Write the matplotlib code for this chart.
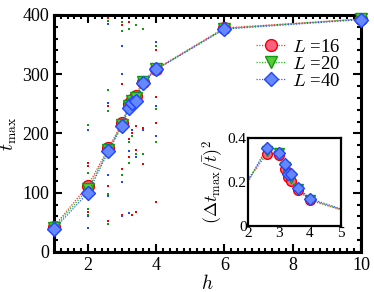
import matplotlib
matplotlib.use("Agg")
import matplotlib.pyplot as plt
from matplotlib.ticker import MultipleLocator

plt.rcParams['font.family'] = 'serif'
plt.rcParams['font.serif'] = ['Liberation Serif', 'DejaVu Serif']
plt.rcParams['mathtext.fontset'] = 'cm'

# main curves: mean t_max vs h
h_main = [1, 2, 2.6, 3, 3.2, 3.3, 3.4, 3.6, 4, 6, 10]
t16 = [43, 112, 175, 218, 249, 257, 264, 287, 309, 378, 393]
t20 = [41, 106, 172, 215, 246, 254, 259, 286, 308, 377, 393]
t40 = [38, 100, 170, 213, 243, 251, 255, 285, 308, 376, 392]

# individual samples (small dots)
dots_h16 = [1, 2, 2, 2, 2.6, 2.6, 2.6, 2.6, 2.6, 3, 3, 3, 3, 3.2, 3.2, 3.2, 3.3, 3.3,
            3.4, 3.4, 3.4, 3.6, 3.6, 4, 4, 4, 4, 6, 10]
dots_t16 = [55, 150, 145, 68, 395, 247, 112, 52, 178, 383, 283, 140, 62, 388, 190, 160, 200, 62,
            212, 172, 68, 210, 148, 340, 262, 218, 85, 398, 343]
dots_h20 = [1, 2, 2, 2, 2, 2.6, 2.6, 2.6, 2.6, 2.6, 3, 3, 3, 3.2, 3.2, 3.2, 3.3, 3.4, 3.4,
            3.6, 3.6, 4, 4, 4, 10]
dots_t20 = [50, 215, 133, 72, 62, 390, 273, 238, 98, 47, 388, 372, 130, 377, 185, 150, 196, 383, 165,
            377, 165, 348, 242, 185, 358]
dots_h40 = [2, 2, 2, 2.6, 2.6, 2.6, 2.6, 3, 3, 3, 3, 3, 3.2, 3.2, 3.2, 3.3, 3.3, 3.4, 3.4,
            3.6, 3.6, 4, 4, 4, 4, 6, 10]
dots_t40 = [205, 60, 40, 385, 252, 130, 95, 398, 348, 300, 118, 60, 398, 170, 65, 398, 205, 398, 160,
            398, 205, 398, 355, 247, 195, 398, 362]

# inset: relative fluctuation
h_in = [2, 2.6, 3, 3.2, 3.3, 3.4, 3.6, 4, 6]
r16 = [0.21, 0.327, 0.322, 0.258, 0.225, 0.205, 0.165, 0.117, 0.03]
r20 = [0.21, 0.34, 0.33, 0.27, 0.232, 0.217, 0.17, 0.12, 0.03]
r40 = [0.20, 0.355, 0.33, 0.283, 0.237, 0.237, 0.175, 0.125, 0.03]

labels = ['$L$ =16', '$L$ =20', '$L$ =40']
line_cols = ['#ff3030', '#22bb22', '#3355ff']
face_cols = ['#ff6080', '#55cc33', '#6688ff']
edge_cols = ['#ee0000', '#119911', '#2244ff']
markers = ['o', 'v', 'D']

fig = plt.figure(figsize=(3.74, 2.92), dpi=100)
ax = fig.add_axes([0.144, 0.137, 0.821, 0.812])

for hd, td, c in [(dots_h16, dots_t16, edge_cols[0]), (dots_h20, dots_t20, edge_cols[1]),
                  (dots_h40, dots_t40, edge_cols[2])]:
    ax.plot(hd, td, 's', ms=1.6, color=c, mew=0, clip_on=False)

sizes = [8.5, 8, 7.5]
for i, ts in enumerate([t16, t20, t40]):
    ax.plot(h_main, ts, linestyle=(0, (1, 1.2)), lw=0.9, color=line_cols[i],
            marker=markers[i], ms=sizes[i], mfc=face_cols[i], mec=edge_cols[i], mew=1.0,
            label=labels[i], clip_on=False, zorder=3 + i)

ax.set_xlim(1, 10)
ax.set_ylim(0, 400)
ax.xaxis.set_major_locator(MultipleLocator(2))
ax.xaxis.set_minor_locator(MultipleLocator(0.2))
ax.yaxis.set_major_locator(MultipleLocator(100))
ax.yaxis.set_minor_locator(MultipleLocator(20))
ax.tick_params(which='both', direction='in', top=True, right=True, labelsize=13, width=1.5)
ax.tick_params(which='major', length=6)
ax.tick_params(which='minor', length=3)
for s in ax.spines.values():
    s.set_linewidth(2.2)
ax.set_xlabel('$h$', fontsize=14, labelpad=0)
ax.set_ylabel('$t_{\\max}$', fontsize=14, labelpad=2)

ax.legend(loc='upper right', bbox_to_anchor=(0.975, 0.955), frameon=False, fontsize=13.5,
          handlelength=1.6, handletextpad=0.3, labelspacing=0.0, borderpad=0.2)

# inset
ins = fig.add_axes([0.663, 0.226, 0.249, 0.301])
for i, rs in enumerate([r16, r20, r40]):
    ins.plot(h_in, rs, linestyle=(0, (1, 1.2)), lw=0.9, color=line_cols[i])
    ins.plot(h_in[1:-1], rs[1:-1], linestyle='none', marker=markers[i], ms=sizes[i] - 1.5,
             mfc=face_cols[i], mec=edge_cols[i], mew=1.0, zorder=3 + i)
ins.set_xlim(2, 5)
ins.set_ylim(0, 0.4)
ins.xaxis.set_major_locator(MultipleLocator(1))
ins.yaxis.set_major_locator(MultipleLocator(0.2))
ins.tick_params(which='both', direction='in', labelsize=11, length=0, pad=1)
for s in ins.spines.values():
    s.set_linewidth(1.6)
ins.yaxis.set_major_formatter(plt.FuncFormatter(lambda v, p: '0' if v == 0 else f'{v:.1f}'))
ins.set_ylabel('$(\\Delta t_{\\max}/\\bar{t})^2$', fontsize=13, labelpad=1)

fig.savefig('out.png', dpi=100)
